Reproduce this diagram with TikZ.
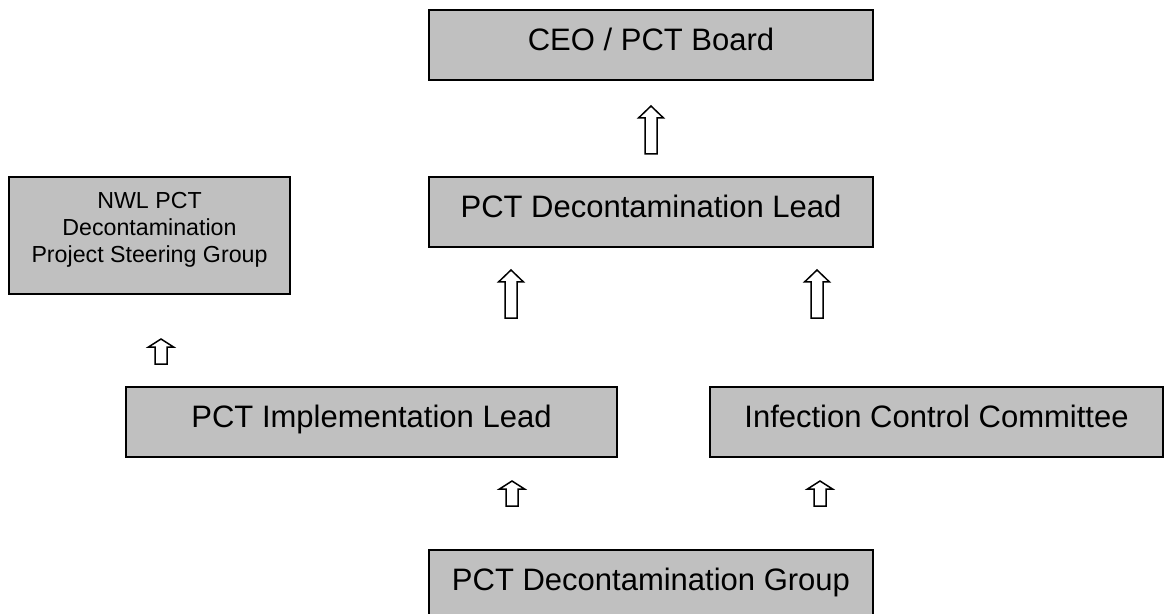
\documentclass[tikz,border=0pt]{standalone}
\usepackage{fontspec}
\setmainfont{Liberation Sans}
\definecolor{boxgray}{RGB}{192,192,192}
\tikzset{
 grbox/.style={draw,line width=1pt,fill=boxgray,inner sep=0pt,
   font=\fontsize{15.5}{18}\selectfont,text height=11.1pt,text depth=5.5pt},
 bigup/.pic={\draw[line width=0.75pt,fill=white] (-6,0) -- (-6,-36) -- (-12.5,-36)
   -- (0,-48) -- (12.5,-36) -- (6,-36) -- (6,0) -- cycle;},
 smallup/.pic={\draw[line width=0.75pt,fill=white] (-6,0) -- (-6,-17) -- (-12.5,-17)
   -- (0,-25) -- (12.5,-17) -- (6,-17) -- (6,0) -- cycle;}
}
\begin{document}
\begin{tikzpicture}[x=0.5pt,y=-0.5pt]
\useasboundingbox (0,0) rectangle (1165,614);

\node[grbox,minimum width=222pt,minimum height=35pt] (ceo) at (651,45) {CEO / PCT Board};
\node[grbox,minimum width=222pt,minimum height=35pt] (lead) at (651,212) {PCT Decontamination Lead};
\node[grbox,minimum width=140.5pt,minimum height=58.5pt] (nwl) at (149.5,235.5) {};
\node[align=center,inner sep=0pt,anchor=north,font=\fontsize{11.6}{13.5}\selectfont]
  (nwltxt) at ([yshift=-8pt]nwl.north) {NWL PCT\\Decontamination\\Project Steering Group};
\node[grbox,minimum width=245.5pt,minimum height=35pt] (impl) at (371.5,422) {PCT Implementation Lead};
\node[grbox,minimum width=226.5pt,minimum height=35pt] (icc) at (936.5,422) {Infection Control Committee};
\node[grbox,minimum width=222pt,minimum height=35pt] (group) at (651,585) {PCT Decontamination Group};

\foreach \x/\y in {651/154,511/318,817/318}
  \pic at (\x,\y) {bigup};
\foreach \x/\y in {161/364,512/506,820/506}
  \pic at (\x,\y) {smallup};
\end{tikzpicture}
\end{document}
